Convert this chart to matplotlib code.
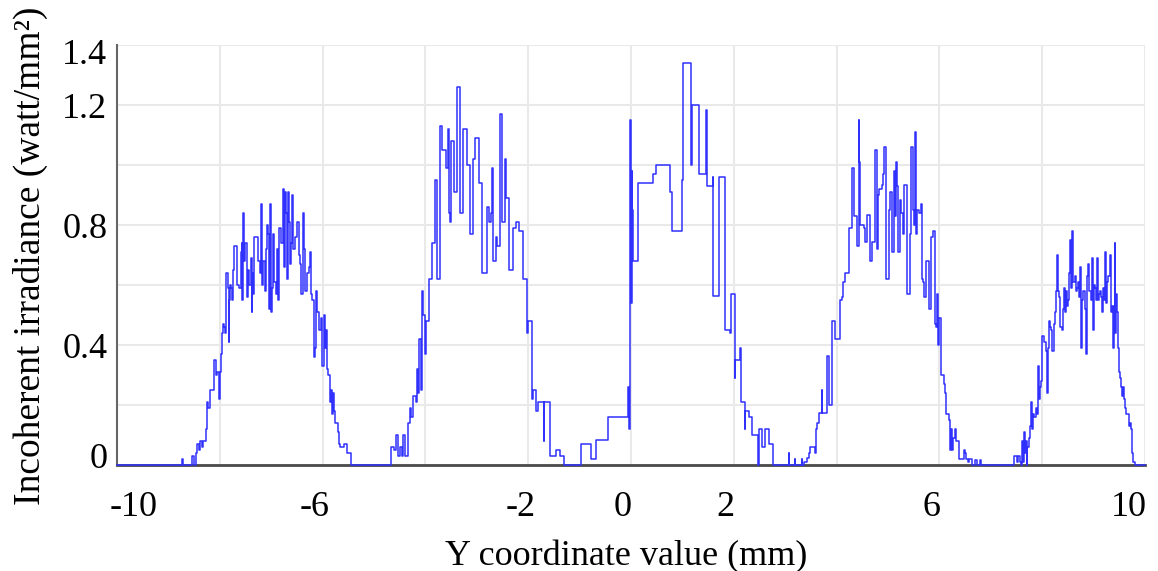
import matplotlib
matplotlib.use("Agg")
from matplotlib import pyplot as plt
from matplotlib.transforms import ScaledTranslation

plt.rcParams['font.family'] = ['Liberation Serif', 'DejaVu Serif']

# (Y coordinate mm, irradiance W/mm^2) step data, read per lobe
lobe_a = [(-10.0, 0.0), (-8.74, 0.02), (-8.72, 0.0), (-8.55, 0.03), (-8.51, 0.0),
          (-8.47, 0.04), (-8.44, 0.07), (-8.40, 0.05), (-8.39, 0.08), (-8.35, 0.06),
          (-8.33, 0.08), (-8.27, 0.12), (-8.24, 0.21), (-8.22, 0.19), (-8.19, 0.25),
          (-8.11, 0.35), (-8.08, 0.30), (-8.05, 0.31), (-8.02, 0.22), (-8.00, 0.31),
          (-7.98, 0.37), (-7.95, 0.44), (-7.94, 0.47), (-7.91, 0.46), (-7.90, 0.44),
          (-7.87, 0.64), (-7.85, 0.59), (-7.83, 0.41), (-7.82, 0.55), (-7.80, 0.60),
          (-7.78, 0.59), (-7.76, 0.55), (-7.74, 0.65), (-7.72, 0.73), (-7.66, 0.60),
          (-7.63, 0.59), (-7.59, 0.71), (-7.57, 0.74), (-7.56, 0.55), (-7.54, 0.84),
          (-7.52, 0.68), (-7.50, 0.74), (-7.48, 0.56), (-7.46, 0.65), (-7.43, 0.60),
          (-7.40, 0.69), (-7.38, 0.51), (-7.37, 0.64), (-7.35, 0.57), (-7.33, 0.76),
          (-7.25, 0.68), (-7.22, 0.64), (-7.20, 0.70), (-7.19, 0.87), (-7.17, 0.60),
          (-7.15, 0.68), (-7.13, 0.58), (-7.11, 0.72), (-7.09, 0.80), (-7.06, 0.77),
          (-7.04, 0.52), (-7.02, 0.87), (-7.00, 0.51), (-6.98, 0.59), (-6.96, 0.77),
          (-6.94, 0.61), (-6.91, 0.57), (-6.89, 0.72), (-6.87, 0.55), (-6.85, 0.79),
          (-6.80, 0.74), (-6.78, 0.92), (-6.76, 0.66), (-6.74, 0.91), (-6.72, 0.84),
          (-6.70, 0.62), (-6.68, 0.91), (-6.65, 0.81), (-6.63, 0.67), (-6.61, 0.74),
          (-6.59, 0.90), (-6.57, 0.72), (-6.54, 0.76), (-6.50, 0.81), (-6.46, 0.70),
          (-6.44, 0.67), (-6.42, 0.57), (-6.39, 0.84), (-6.37, 0.72), (-6.35, 0.58),
          (-6.30, 0.64), (-6.26, 0.66), (-6.24, 0.71), (-6.23, 0.57), (-6.20, 0.55),
          (-6.17, 0.36), (-6.14, 0.39), (-6.12, 0.58), (-6.10, 0.51), (-6.07, 0.45),
          (-6.04, 0.49), (-6.01, 0.33), (-5.98, 0.50), (-5.95, 0.39), (-5.93, 0.45),
          (-5.91, 0.32), (-5.89, 0.30), (-5.86, 0.21), (-5.84, 0.25), (-5.82, 0.17),
          (-5.80, 0.24), (-5.78, 0.18), (-5.76, 0.14), (-5.71, 0.11), (-5.69, 0.07),
          (-5.67, 0.06), (-5.58, 0.07), (-5.52, 0.04), (-5.45, 0.0)]

lobe_b = [(-4.66, 0.06), (-4.62, 0.05), (-4.58, 0.10), (-4.54, 0.03), (-4.50, 0.06),
          (-4.46, 0.03), (-4.43, 0.10), (-4.39, 0.03), (-4.34, 0.14), (-4.30, 0.19),
          (-4.28, 0.16), (-4.25, 0.23), (-4.19, 0.21), (-4.17, 0.32), (-4.14, 0.24),
          (-4.12, 0.42), (-4.09, 0.25), (-4.07, 0.58), (-4.04, 0.50), (-4.01, 0.37),
          (-3.99, 0.48), (-3.93, 0.62), (-3.88, 0.74), (-3.82, 0.95), (-3.77, 0.62),
          (-3.71, 1.13), (-3.67, 1.05), (-3.60, 0.99), (-3.57, 1.12), (-3.55, 0.84),
          (-3.53, 0.81), (-3.51, 1.08), (-3.44, 0.91), (-3.39, 1.26), (-3.33, 0.84),
          (-3.27, 1.12), (-3.20, 1.00), (-3.14, 0.77), (-3.07, 1.02), (-3.03, 1.09),
          (-2.95, 0.94), (-2.89, 0.64), (-2.81, 0.86), (-2.77, 0.85), (-2.76, 0.81),
          (-2.73, 0.84), (-2.70, 0.99), (-2.68, 0.68), (-2.62, 0.76), (-2.60, 0.73),
          (-2.54, 1.17), (-2.51, 0.81), (-2.46, 1.02), (-2.44, 0.89), (-2.37, 0.65),
          (-2.29, 0.79), (-2.24, 0.81), (-2.18, 0.78), (-2.11, 0.62), (-2.03, 0.44),
          (-2.00, 0.48), (-1.93, 0.22), (-1.91, 0.25), (-1.84, 0.18), (-1.81, 0.21),
          (-1.70, 0.08), (-1.69, 0.21), (-1.58, 0.03), (-1.46, 0.05), (-1.38, 0.03),
          (-1.30, 0.0)]

lobe_c = [(-0.97, 0.07), (-0.77, 0.02), (-0.68, 0.085), (-0.44, 0.16), (-0.05, 0.26),
          (-0.04, 0.12), (-0.02, 0.16), (-0.01, 1.15), (0.00, 0.54), (0.01, 0.98),
          (0.02, 0.85), (0.04, 0.68), (0.13, 0.94), (0.43, 0.97), (0.49, 1.00),
          (0.76, 0.91), (0.79, 0.78), (0.99, 0.95), (1.01, 1.34), (1.17, 1.20),
          (1.175, 1.00), (1.19, 1.20), (1.33, 0.97), (1.46, 1.185), (1.48, 0.93),
          (1.59, 0.96), (1.60, 0.565), (1.72, 0.96), (1.82, 0.45), (1.92, 0.44),
          (1.94, 0.57), (2.02, 0.29), (2.03, 0.35), (2.12, 0.39), (2.14, 0.21),
          (2.21, 0.12), (2.215, 0.18), (2.29, 0.16), (2.36, 0.10), (2.47, 0.0),
          (2.49, 0.12), (2.54, 0.06), (2.61, 0.12), (2.69, 0.07), (2.76, 0.0)]

lobe_d = [(3.07, 0.04), (3.08, 0.0), (3.19, 0.02), (3.20, 0.0), (3.32, 0.02),
          (3.33, 0.0), (3.37, 0.01), (3.42, 0.025), (3.46, 0.04), (3.49, 0.06),
          (3.58, 0.04), (3.59, 0.12), (3.62, 0.14), (3.66, 0.175), (3.71, 0.25),
          (3.72, 0.175), (3.82, 0.365), (3.86, 0.20), (3.91, 0.48), (3.97, 0.42),
          (4.06, 0.55), (4.10, 0.56), (4.12, 0.61), (4.16, 0.64), (4.25, 0.79),
          (4.29, 0.99), (4.34, 0.83), (4.39, 0.73), (4.43, 1.15), (4.44, 1.01),
          (4.46, 0.80), (4.54, 0.79), (4.55, 0.745), (4.60, 0.835), (4.65, 0.68),
          (4.69, 0.745), (4.75, 1.05), (4.79, 0.72), (4.81, 0.90), (4.82, 0.92),
          (4.88, 0.935), (4.90, 0.97), (4.92, 1.06), (4.97, 0.62), (5.01, 0.85),
          (5.04, 0.91), (5.08, 0.71), (5.12, 0.98), (5.14, 0.83), (5.15, 1.01),
          (5.18, 0.93), (5.20, 0.71), (5.23, 0.885), (5.25, 0.84), (5.29, 0.77),
          (5.31, 0.935), (5.36, 0.57), (5.42, 0.77), (5.45, 1.06), (5.49, 0.85),
          (5.51, 0.80), (5.53, 1.11), (5.55, 0.77), (5.57, 0.85), (5.60, 0.84),
          (5.64, 0.87), (5.67, 0.62), (5.69, 0.61), (5.70, 0.56), (5.74, 0.68),
          (5.79, 0.52), (5.84, 0.76), (5.87, 0.78), (5.92, 0.47), (5.94, 0.46),
          (5.96, 0.57), (5.98, 0.40), (6.00, 0.49), (6.03, 0.30), (6.08, 0.27),
          (6.10, 0.24), (6.12, 0.17), (6.18, 0.15), (6.20, 0.05), (6.22, 0.12),
          (6.24, 0.05), (6.26, 0.09), (6.31, 0.12), (6.32, 0.08), (6.38, 0.02),
          (6.48, 0.05), (6.50, 0.04), (6.52, 0.02), (6.55, 0.01), (6.57, 0.02),
          (6.63, 0.0), (6.69, 0.016), (6.73, 0.0), (6.79, 0.016), (6.81, 0.0)]

lobe_e = [(7.46, 0.03), (7.50, 0.01), (7.52, 0.03), (7.56, 0.01), (7.59, 0.0),
          (7.61, 0.08), (7.63, 0.01), (7.65, 0.11), (7.67, 0.04), (7.69, 0.08),
          (7.70, 0.0), (7.71, 0.06), (7.74, 0.09), (7.77, 0.13), (7.79, 0.21),
          (7.81, 0.12), (7.83, 0.17), (7.85, 0.16), (7.87, 0.19), (7.90, 0.17),
          (7.92, 0.33), (7.94, 0.22), (7.96, 0.26), (7.98, 0.28), (8.00, 0.43),
          (8.03, 0.41), (8.07, 0.38), (8.09, 0.24), (8.11, 0.39), (8.14, 0.48),
          (8.16, 0.46), (8.18, 0.45), (8.20, 0.38), (8.23, 0.47), (8.25, 0.51),
          (8.27, 0.58), (8.29, 0.70), (8.31, 0.58), (8.33, 0.56), (8.35, 0.46),
          (8.38, 0.45), (8.41, 0.52), (8.43, 0.59), (8.44, 0.51), (8.46, 0.58),
          (8.48, 0.53), (8.50, 0.55), (8.52, 0.64), (8.54, 0.75), (8.56, 0.59),
          (8.58, 0.78), (8.60, 0.61), (8.63, 0.63), (8.65, 0.58), (8.67, 0.59),
          (8.69, 0.61), (8.72, 0.56), (8.74, 0.66), (8.76, 0.39), (8.78, 0.55),
          (8.80, 0.58), (8.83, 0.52), (8.85, 0.46), (8.86, 0.37), (8.88, 0.63),
          (8.90, 0.67), (8.92, 0.58), (8.94, 0.55), (8.97, 0.69), (8.99, 0.45),
          (9.01, 0.60), (9.03, 0.59), (9.05, 0.55), (9.07, 0.69), (9.09, 0.55),
          (9.10, 0.57), (9.12, 0.58), (9.14, 0.56), (9.16, 0.51), (9.18, 0.59),
          (9.20, 0.55), (9.22, 0.71), (9.24, 0.54), (9.26, 0.61), (9.28, 0.63),
          (9.31, 0.70), (9.33, 0.51), (9.35, 0.53), (9.37, 0.39), (9.39, 0.53),
          (9.41, 0.74), (9.42, 0.44), (9.44, 0.57), (9.46, 0.51), (9.48, 0.39),
          (9.50, 0.31), (9.52, 0.29), (9.54, 0.26), (9.56, 0.23), (9.58, 0.26),
          (9.60, 0.22), (9.62, 0.19), (9.64, 0.17), (9.68, 0.13), (9.70, 0.14),
          (9.72, 0.12), (9.74, 0.04), (9.76, 0.01), (9.80, 0.0), (10.0, 0.0)]

x_grid = [-10, -8, -6, -4, -2, 0, 2, 4, 6, 8, 10]
x_labels = ['-10', '', '-6', '', '-2', '0', '2', '', '6', '', '10']
y_grid = [0, 0.2, 0.4, 0.6, 0.8, 1.0, 1.2, 1.4]
y_labels = ['0', '', '0.4', '', '0.8', '', '1.2', '1.4']

fig = plt.figure(figsize=(11.58, 5.71), dpi=100)
ax = fig.add_axes([117 / 1158, 106 / 571, 1028 / 1158, 420 / 571])

xs, ys = zip(*(lobe_a + lobe_b + lobe_c + lobe_d + lobe_e))
ax.plot(xs, ys, drawstyle='steps-post', color='#3030ff', lw=1.1, zorder=3,
        clip_on=False)

ax.set_xlim(-10, 10)
ax.set_ylim(0, 1.4)
ax.set_xticks(x_grid)
ax.set_xticklabels(x_labels)
ax.set_yticks(y_grid)
ax.set_yticklabels(y_labels)
ax.grid(True, color='#e9e9e9', lw=1.5)
ax.set_axisbelow(True)
ax.tick_params(length=0, labelsize=26, colors='black')
ax.tick_params(axis='x', pad=19)
ax.tick_params(axis='y', pad=7)

for side in ('top', 'right'):
    ax.spines[side].set_visible(False)
ax.spines['left'].set_color('#666666')
ax.spines['left'].set_linewidth(1.5)
ax.spines['bottom'].set_color('#4a4a4a')
ax.spines['bottom'].set_linewidth(2)

# nudge tick labels like the original layout
xl = ax.get_xticklabels()
for i, lbl in enumerate(xl):
    if i == 0:
        lbl.set_ha('left')
        dx = -7
    elif i == len(xl) - 1:
        lbl.set_ha('right')
        dx = 2
    else:
        dx = -8
    lbl.set_transform(lbl.get_transform()
                      + ScaledTranslation(dx / 100, 0, fig.dpi_scale_trans))
yl = ax.get_yticklabels()
yl[0].set_transform(yl[0].get_transform()
                    + ScaledTranslation(0, 10 / 100, fig.dpi_scale_trans))
yl[-1].set_transform(yl[-1].get_transform()
                     + ScaledTranslation(0, -6 / 100, fig.dpi_scale_trans))

fig.text(0.541, 0.0105, 'Y coordinate value (mm)', fontsize=26,
         ha='center', va='baseline')
fig.text(0.0345, 0.5525, 'Incoherent irradiance (watt/mm\u00b2)', fontsize=27,
         rotation=90, rotation_mode='anchor', ha='center', va='baseline')

fig.savefig('out.png', dpi=100)
